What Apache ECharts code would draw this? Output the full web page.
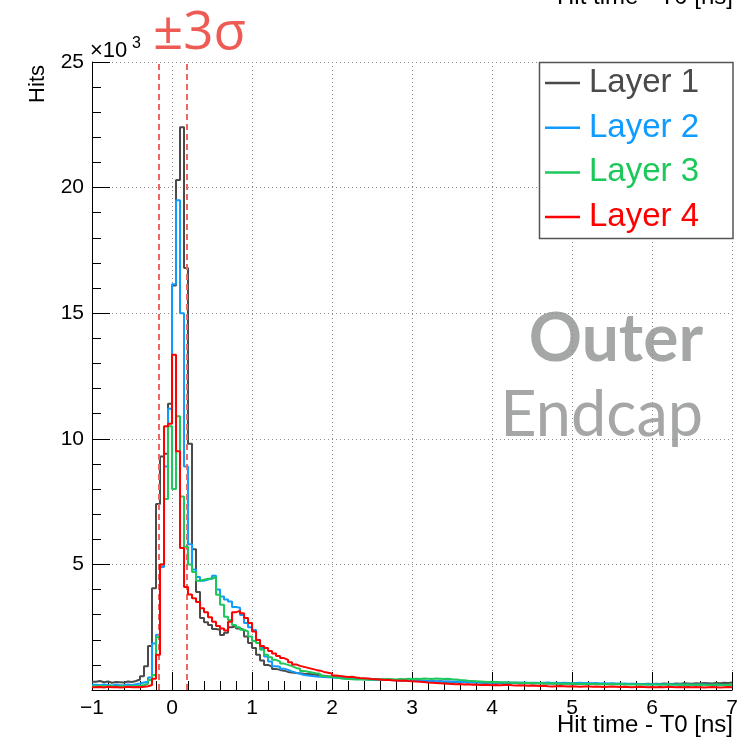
<!DOCTYPE html>
<html>
<head>
<meta charset="utf-8">
<title>Outer Endcap - hit time</title>
<script src="https://cdn.jsdelivr.net/npm/echarts@6/dist/echarts.min.js"></script>
<style>html,body{margin:0;padding:0;background:#fff;}</style>
</head>
<body>
<div id="main" style="width:741px;height:738px;"></div>
<script>
// histogram binning: 160 bins of 0.05 ns from -1 to 7
var histMin = -1, histMax = 7, binWidth = 0.05;

var layer1 = [
  330, 360, 310, 340, 290, 320, 310, 300, 340, 320,
  360, 420, 550, 950, 1750, 4050, 7400, 9300, 9400, 11400,
  16100, 20300, 22400, 16800, 9800, 5600, 3900, 2870, 2700, 2590,
  2430, 2400, 2190, 2280, 2500, 2550, 2450, 2390, 2130, 1870,
  1670, 1400, 1170, 1000, 930, 840, 800, 770, 720, 700,
  680, 670, 650, 640, 630, 610, 590, 570, 550, 540,
  520, 500, 480, 470, 460, 450, 440, 450, 430, 420,
  430, 410, 420, 400, 410, 390, 400, 380, 390, 370,
  380, 360, 370, 350, 360, 340, 350, 330, 340, 320,
  330, 320, 310, 320, 300, 310, 300, 290, 300, 290,
  300, 280, 290, 280, 270, 290, 280, 270, 280, 260,
  270, 280, 260, 270, 260, 270, 250, 260, 270, 250,
  260, 250, 260, 240, 250, 260, 240, 250, 240, 250,
  240, 250, 230, 240, 250, 240, 230, 240, 250, 240,
  250, 240, 260, 250, 240, 260, 250, 270, 260, 250,
  270, 260, 280, 270, 260, 280, 270, 290, 280, 300
];
var layer2 = [
  210, 190, 220, 200, 180, 210, 190, 200, 220, 200,
  230, 260, 300, 330, 500, 1850, 2200, 4900, 8900, 11200,
  16150, 19500, 15000, 8900, 5800, 4800, 4500, 4350, 4400, 4450,
  4550, 4000, 3720, 3600, 3520, 3300, 3270, 2990, 2670, 2500,
  2390, 1990, 1670, 1330, 1130, 950, 930, 850, 800, 740,
  690, 650, 600, 580, 560, 540, 530, 520, 510, 500,
  490, 480, 470, 460, 450, 450, 440, 430, 420, 430,
  410, 420, 400, 410, 390, 400, 380, 390, 370, 380,
  370, 360, 370, 350, 360, 340, 350, 340, 330, 340,
  330, 320, 330, 310, 320, 310, 300, 310, 300, 310,
  300, 290, 300, 290, 300, 280, 290, 300, 280, 290,
  290, 280, 290, 300, 280, 290, 280, 290, 280, 270,
  280, 290, 270, 280, 270, 280, 260, 270, 260, 270,
  260, 250, 260, 250, 240, 250, 240, 230, 240, 230,
  240, 230, 220, 230, 220, 230, 220, 210, 220, 210,
  220, 210, 220, 210, 200, 210, 200, 210, 200, 210
];
var layer3 = [
  150, 170, 140, 160, 150, 130, 160, 150, 140, 160,
  150, 170, 200, 250, 400, 600, 2100, 5000, 7600, 10500,
  8000, 10900, 7700, 5700, 5000, 4700, 4350, 4390, 4430, 4430,
  4500, 3790, 3390, 2920, 2790, 2590, 2500, 2400, 2330, 2125,
  1950, 1870, 1600, 1400, 1300, 1200, 1130, 1050, 1000, 950,
  880, 850, 760, 730, 700, 670, 650, 560, 540, 520,
  500, 470, 450, 440, 430, 420, 430, 420, 410, 420,
  420, 430, 420, 440, 430, 420, 440, 430, 450, 440,
  450, 440, 460, 450, 440, 460, 450, 440, 450, 430,
  420, 400, 390, 370, 360, 350, 340, 330, 320, 330,
  320, 310, 300, 310, 290, 300, 290, 280, 290, 280,
  270, 280, 270, 260, 270, 260, 250, 260, 250, 260,
  250, 240, 250, 240, 250, 240, 230, 240, 230, 240,
  230, 240, 230, 220, 230, 220, 230, 220, 210, 220,
  220, 210, 220, 230, 220, 210, 220, 210, 220, 210,
  210, 220, 210, 200, 210, 220, 210, 200, 210, 200
];
var layer4 = [
  110, 120, 100, 130, 110, 120, 100, 110, 130, 110,
  120, 110, 130, 150, 200, 450, 1400, 5000, 10500, 10600,
  13350, 9500, 5650, 4100, 3800, 3650, 3500, 3250, 3100, 2900,
  2720, 2550, 2450, 2370, 2720, 3100, 3150, 3060, 2870, 2670,
  2330, 1990, 1750, 1670, 1550, 1450, 1350, 1270, 1200, 1100,
  1020, 960, 920, 880, 840, 800, 770, 720, 690, 660,
  580, 560, 540, 520, 530, 500, 480, 470, 460, 440,
  430, 420, 400, 410, 390, 380, 370, 380, 360, 350,
  340, 330, 320, 300, 290, 280, 270, 260, 250, 240,
  230, 240, 220, 230, 210, 220, 200, 210, 200, 190,
  200, 190, 200, 210, 190, 180, 190, 180, 170, 180,
  170, 160, 170, 150, 140, 150, 160, 150, 140, 150,
  140, 130, 140, 150, 130, 140, 130, 120, 130, 140,
  130, 120, 130, 120, 110, 120, 130, 120, 110, 120,
  110, 120, 110, 130, 120, 110, 120, 110, 120, 110,
  120, 110, 100, 110, 120, 110, 100, 110, 120, 110
];

var layerNames = ['Layer 1', 'Layer 2', 'Layer 3', 'Layer 4'];
var layerColors = ['#4a4a4a', '#0f9bff', '#1cc85a', '#ff0000'];
var sigmaLines = [-0.167, 0.181];   // ±3σ window [ns]

var font = "'Liberation Sans', Arial, Helvetica, sans-serif";
var chart = echarts.init(document.getElementById('main'));

function histData(vals) {
    var d = vals.map(function (v, i) { return [histMin + i * binWidth, v]; });
    d.push([histMax, vals[vals.length - 1]]);
    return d;
}

var series = [layer1, layer2, layer3, layer4].map(function (vals, k) {
    return {
        name: layerNames[k],
        type: 'line',
        step: 'end',
        symbol: 'none',
        color: layerColors[k],
        lineStyle: { width: 2, color: layerColors[k] },
        data: histData(vals),
        z: 3 + k
    };
});
series[3].markLine = {
    silent: true,
    symbol: ['none', 'none'],
    label: { show: false },
    lineStyle: { color: '#f06560', type: [6, 4], width: 2 },
    data: sigmaLines.map(function (x) { return { xAxis: x }; })
};

var grayText = '#a4a7a5';

chart.setOption({
    animation: false,
    grid: { left: 92, right: 8, top: 62, bottom: 48 },
    xAxis: {
        type: 'value', min: histMin, max: histMax, interval: 1,
        axisLine: { onZero: false, lineStyle: { color: '#000', width: 1 } },
        axisTick: { inside: true, length: 18, lineStyle: { color: '#000' } },
        minorTick: { show: true, splitNumber: 5, length: 9, lineStyle: { color: '#000' } },
        axisLabel: {
            fontSize: 21, color: '#000', fontFamily: font, margin: 8,
            formatter: function (v) { return v < 0 ? '\u2212' + (-v) : String(v); }
        },
        splitLine: { show: true, lineStyle: { color: '#8a8a8a', type: [1, 3] } }
    },
    yAxis: {
        type: 'value', min: 0, max: 25000, interval: 5000,
        axisLine: { show: true, onZero: false, lineStyle: { color: '#000', width: 1 } },
        axisTick: { show: true, inside: true, length: 18, lineStyle: { color: '#000' } },
        minorTick: { show: true, splitNumber: 5, length: 9, lineStyle: { color: '#000' } },
        axisLabel: {
            fontSize: 21, color: '#000', fontFamily: font, margin: 8,
            formatter: function (v) { return v === 0 ? '' : String(v / 1000); }
        },
        splitLine: { show: true, lineStyle: { color: '#8a8a8a', type: [1, 3] } }
    },
    legend: {
        orient: 'vertical', left: 545, top: 66, padding: 0,
        icon: 'rect', itemWidth: 35, itemHeight: 2.5, itemGap: 10.7,
        selectedMode: false, z: 20,
        textStyle: { fontSize: 33, fontFamily: font, lineHeight: 34, padding: [0, 0, 0, 4] },
        data: layerNames.map(function (n, k) {
            return { name: n, textStyle: { color: layerColors[k] } };
        })
    },
    graphic: [
        { type: 'rect', z: 15, shape: { x: 539.5, y: 62.5, width: 193.5, height: 176 },
          style: { fill: '#fff', stroke: '#555', lineWidth: 1.5 } },
        { type: 'text', x: 90, y: 62, style: { text: '\u00d710', font: '22px ' + font, fill: '#000', verticalAlign: 'bottom' } },
        { type: 'text', x: 132, y: 36, style: { text: '3', font: '16px ' + font, fill: '#000', verticalAlign: 'top' } },
        { type: 'text', x: 38, y: 65, rotation: Math.PI / 2,
          style: { text: 'Hits', font: '22px ' + font, fill: '#000', align: 'right', verticalAlign: 'middle' } },
        { type: 'text', x: 733, y: 737,
          style: { text: 'Hit time - T0 [ns]', font: '24px ' + font, fill: '#000', align: 'right', verticalAlign: 'bottom' } },
        { type: 'text', x: 733, y: 9,
          style: { text: 'Hit time - T0 [ns]', font: '24px ' + font, fill: '#000', align: 'right', verticalAlign: 'bottom' } },
        { type: 'text', x: 153, y: 34,
          style: { text: '\u00b13\u03c3', font: "53px 'Open Sans', sans-serif", fill: '#ee5b55', verticalAlign: 'middle' } },
        { type: 'text', x: 703, y: 340,
          style: { text: 'Outer', font: "bold 66px Lato, 'Open Sans', sans-serif", fill: grayText, align: 'right', verticalAlign: 'middle' } },
        { type: 'text', x: 703, y: 416,
          style: { text: 'Endcap', font: "63px Lato, 'Open Sans', sans-serif", fill: grayText, align: 'right', verticalAlign: 'middle' } }
    ],
    series: series
});
</script>
</body>
</html>
